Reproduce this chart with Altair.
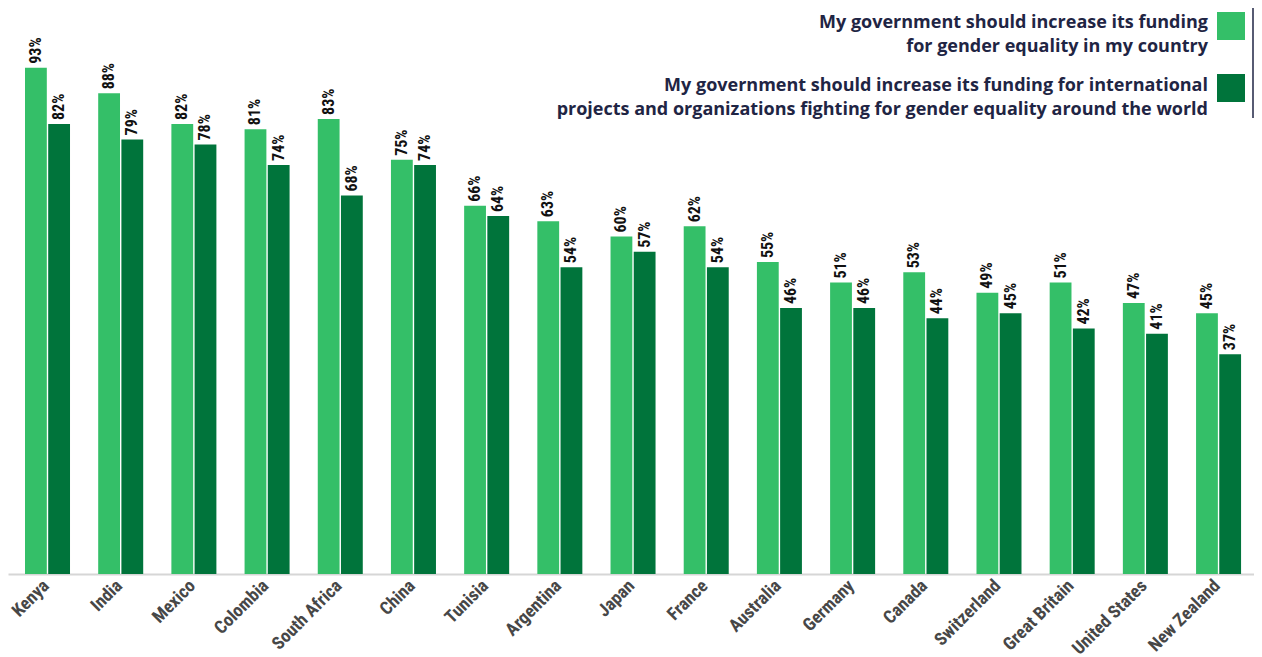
import altair as alt
import pandas as pd

countries = ["Kenya", "India", "Mexico", "Colombia", "South Africa", "China", "Tunisia",
             "Argentina", "Japan", "France", "Australia", "Germany", "Canada",
             "Switzerland", "Great Britain", "United States", "New Zealand"]
domestic = [93, 88, 82, 81, 83, 75, 66, 63, 60, 62, 55, 51, 53, 49, 51, 47, 45]
international = [82, 79, 78, 74, 68, 74, 64, 54, 57, 54, 46, 46, 44, 45, 42, 41, 37]

series_names = [
    "My government should increase its funding\nfor gender equality in my country",
    "My government should increase its funding for international\nprojects and organizations fighting for gender equality around the world",
]
colors = ["#34BF68", "#00743B"]

rows = []
for c, d, i in zip(countries, domestic, international):
    rows.append({"country": c, "series": series_names[0], "value": d})
    rows.append({"country": c, "series": series_names[1], "value": i})
df = pd.DataFrame(rows)

NARROW = "Roboto Condensed, Roboto, sans-serif"
LEG = "Open Sans, Roboto, sans-serif"
NAVY = "#1F2544"

color_scale = alt.Scale(domain=series_names, range=colors)

base = alt.Chart(df).encode(
    x=alt.X("country:N", sort=countries,
            scale=alt.Scale(paddingInner=0.385, paddingOuter=0.2045, align=0.568),
            axis=alt.Axis(title=None, labelAngle=-45, labelAlign="right",
                          labelBaseline="middle", ticks=False, labelPadding=9,
                          labelOffset=-1,
                          domainColor="#d6d6d6", domainWidth=2,
                          labelFont=NARROW, labelFontSize=18, labelFontWeight="bold",
                          labelColor="#474747")),
    xOffset=alt.XOffset("series:N", sort=series_names,
                        scale=alt.Scale(paddingInner=0.06)),
    y=alt.Y("value:Q", scale=alt.Scale(domain=[-6, 100]), axis=None),
)

bars = base.mark_bar().encode(
    y2=alt.datum(-6),
    color=alt.Color("series:N", scale=color_scale, legend=None),
)

labels = base.transform_calculate(lbl="datum.value + '%'").mark_text(
    angle=270, align="left", baseline="middle", dx=4,
    font=NARROW, fontSize=16, fontWeight="bold", color="#111111",
).encode(text="lbl:N")

leg_df = pd.DataFrame({"series": series_names})

def legend_item(idx, top, baseline_y):
    sub = leg_df.iloc[[idx]]
    rect = alt.Chart(sub).mark_rect(color=colors[idx]).encode(
        x=alt.value(1209), x2=alt.value(1237),
        y=alt.value(top), y2=alt.value(top + 28),
    )
    txt = alt.Chart(sub).mark_text(
        align="right", baseline="alphabetic", lineBreak="\n", lineHeight=23.5,
        font=LEG, fontSize=18, fontWeight="bold", color=NAVY,
    ).encode(x=alt.value(1200), y=alt.value(baseline_y), text="series:N")
    return rect + txt

leg1 = legend_item(0, -20, -4)
leg2 = legend_item(1, 42, 59)

vline = alt.Chart(leg_df.iloc[[0]]).mark_rule(color=NAVY, strokeWidth=1.5).encode(
    x=alt.value(1245), y=alt.value(-24), y2=alt.value(86)
)

chart = alt.layer(bars, labels, leg1, leg2, vline).properties(
    width=1246, height=542,
    autosize=alt.AutoSizeParams(type="none"),
    padding={"left": 0, "top": 24, "right": 0, "bottom": 83},
).configure_view(stroke=None)

chart.save("out.html", embed_options={"renderer": "svg", "actions": False})
